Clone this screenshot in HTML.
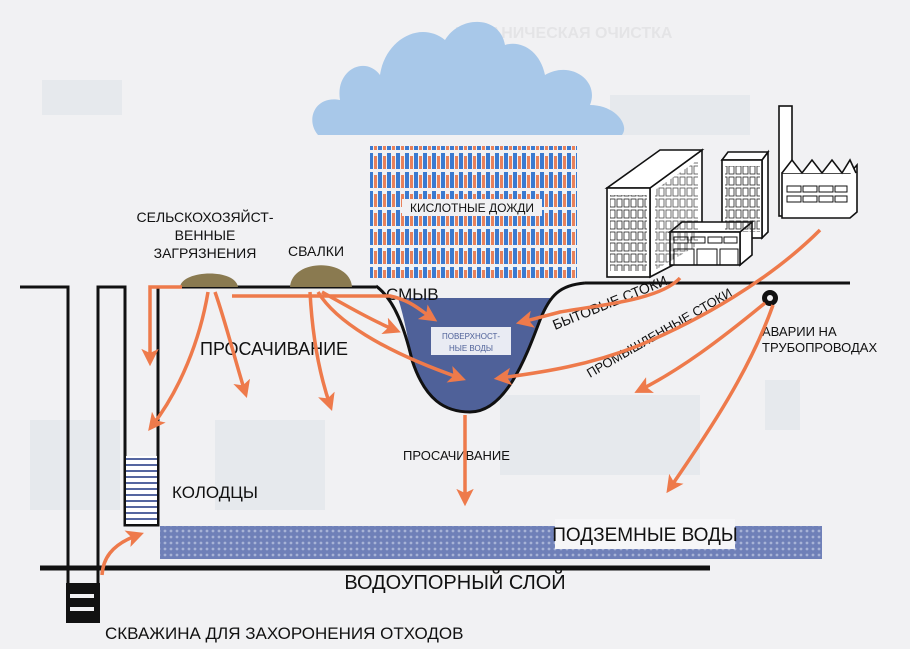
<!DOCTYPE html>
<html><head><meta charset="utf-8"><style>
html,body{margin:0;padding:0;background:#f1f1f3;}
svg{display:block}
text{font-family:"Liberation Sans",sans-serif;}
</style></head><body>
<svg width="910" height="649" viewBox="0 0 910 649" xmlns="http://www.w3.org/2000/svg">
<defs>
<marker id="ah" markerWidth="5" markerHeight="5" refX="3.2" refY="2.5" orient="auto" markerUnits="strokeWidth">
<path d="M0,0 L5,2.5 L0,5 L1.2,2.5z" fill="#ee7a4b"/></marker>
<pattern id="rain" width="9" height="19" patternUnits="userSpaceOnUse">
<rect x="0" y="1" width="4" height="16" fill="#3a7ad0"/>
<rect x="5" y="4" width="3" height="13" fill="#e8815a"/>
</pattern>
<pattern id="gw" width="6" height="6" patternUnits="userSpaceOnUse">
<rect width="6" height="6" fill="#6f80b8"/><circle cx="3" cy="3" r="1.4" fill="#a7b3d6"/>
</pattern>
<pattern id="win" width="7" height="11" patternUnits="userSpaceOnUse">
<rect x="1" y="1" width="5" height="8" fill="none" stroke="#222" stroke-width="0.8"/>
</pattern>
</defs>
<rect width="910" height="649" fill="#f1f1f3"/>
<g opacity="0.07" fill="#5a7fb0">
<rect x="42" y="80" width="80" height="35"/><rect x="610" y="95" width="140" height="40"/>
<rect x="500" y="395" width="200" height="80"/><rect x="765" y="380" width="35" height="50"/>
<rect x="30" y="420" width="90" height="90"/><rect x="215" y="420" width="110" height="90"/>
</g>
<text x="455" y="38" font-size="16" font-weight="bold" fill="#555" opacity="0.08">МЕХАНИЧЕСКАЯ ОЧИСТКА</text>
<!-- cloud -->
<path d="M318,135 C305,120 315,95 340,100 C335,70 365,55 380,75 C385,40 420,20 445,40 C460,15 500,15 505,45 C520,40 540,50 545,75 C570,60 600,80 590,105 C615,105 630,125 622,135 Z" fill="#a8c8e9"/>
<rect x="370" y="146" width="207" height="132" fill="url(#rain)"/>
<rect x="402" y="199" width="140" height="17" fill="#f1f1f3"/>
<text x="472" y="212" font-size="12" text-anchor="middle" fill="#111">КИСЛОТНЫЕ ДОЖДИ</text>
<!-- water bowl -->
<path d="M398,298 C405,320 408,340 412,360 C425,400 445,412 470,412 C505,412 525,360 540,320 C544,310 548,302 552,298 Z" fill="#4f6199"/>
<path d="M376,286 C395,300 405,330 412,360 C425,400 445,412 470,412 C505,412 525,360 540,320 C550,295 560,285 585,283" fill="none" stroke="#111" stroke-width="3"/>
<rect x="431" y="327" width="80" height="28" fill="#e9ebf3"/>
<text x="471" y="339" font-size="8" text-anchor="middle" fill="#4f6199">ПОВЕРХНОСТ-</text>
<text x="471" y="351" font-size="8" text-anchor="middle" fill="#4f6199">НЫЕ ВОДЫ</text>
<g stroke="#111" stroke-width="3" fill="none">
<path d="M20,287 L68,287 L68,622"/>
<path d="M98,622 L98,287 L125,287 L125,525 L158,525 L158,287 L376,287"/>
<path d="M585,283 L850,283"/>
</g>
<rect x="126" y="456" width="31" height="68" fill="#fff"/>
<g stroke="#5566a0" stroke-width="2"><path d="M126,459h31M126,465h31M126,471h31M126,477h31M126,483h31M126,489h31M126,495h31M126,501h31M126,507h31M126,513h31M126,519h31"/></g>
<rect x="66" y="583" width="34" height="40" fill="#111"/>
<rect x="70" y="594" width="24" height="4" fill="#f1f1f3"/><rect x="70" y="607" width="24" height="4" fill="#f1f1f3"/>
<rect x="160" y="526" width="662" height="33" fill="url(#gw)"/>
<rect x="555" y="519" width="180" height="30" fill="#f6f6f8"/>
<text x="645" y="541" font-size="19" text-anchor="middle" fill="#111">ПОДЗЕМНЫЕ ВОДЫ</text>
<line x1="40" y1="568" x2="710" y2="568" stroke="#111" stroke-width="5"/>
<text x="455" y="589" font-size="20" text-anchor="middle" fill="#111">ВОДОУПОРНЫЙ СЛОЙ</text>
<text x="105" y="639" font-size="17" fill="#111">СКВАЖИНА ДЛЯ ЗАХОРОНЕНИЯ ОТХОДОВ</text>
<path d="M180,287 C182,270 235,268 238,287 Z" fill="#8a7a50"/>
<path d="M290,287 C292,258 350,258 352,287 Z" fill="#8a7a50"/>
<g fill="#111" font-size="14" text-anchor="middle">
<text x="205" y="222">СЕЛЬСКОХОЗЯЙСТ-</text><text x="205" y="240">ВЕННЫЕ</text><text x="205" y="258">ЗАГРЯЗНЕНИЯ</text>
<text x="316" y="256">СВАЛКИ</text>
</g>
<text x="386" y="300" font-size="17" fill="#111">СМЫВ</text>
<text x="200" y="355" font-size="18" fill="#111">ПРОСАЧИВАНИЕ</text>
<text x="403" y="460" font-size="13" fill="#111">ПРОСАЧИВАНИЕ</text>
<text x="172" y="498" font-size="17" fill="#111">КОЛОДЦЫ</text>
<text x="762" y="336" font-size="13" fill="#111">АВАРИИ НА</text>
<text x="762" y="352" font-size="13" fill="#111">ТРУБОПРОВОДАХ</text>
<text x="0" y="0" font-size="14" fill="#111" transform="translate(555,330) rotate(-22)">БЫТОВЫЕ СТОКИ</text>
<text x="0" y="0" font-size="13" fill="#111" transform="translate(590,378) rotate(-30)">ПРОМЫШЛЕННЫЕ СТОКИ</text>
<circle cx="770" cy="298" r="8" fill="#111"/><circle cx="770" cy="298" r="3" fill="#f1f1f3"/>
<g stroke="#111" stroke-width="1.6" fill="#fff">
<rect x="779" y="106" width="13" height="110"/>
<path d="M650,188 L702,150 L702,250 L650,277 Z"/>
<path d="M607,188 L650,188 L702,150 L660,150 Z"/>
<rect x="607" y="188" width="43" height="89"/>
<path d="M762,160 L768,152 L768,232 L762,238 Z"/>
<path d="M722,160 L762,160 L768,152 L728,152 Z"/>
<rect x="722" y="160" width="40" height="78"/>
<path d="M782,173 L850,173 L857,165 L857,212 L850,218 L782,218 Z"/>
<path d="M782,173 l10,-13 l10,13 l10,-13 l10,13 l10,-13 l10,13 l8,-13 l6,13" />
<path d="M740,232 L752,222 L752,255 L740,265 Z"/>
<path d="M670,232 L740,232 L752,222 L682,222 Z"/>
<rect x="670" y="232" width="70" height="33"/>
</g>
<rect x="610" y="195" width="37" height="76" fill="url(#win)"/>
<rect x="725" y="166" width="35" height="66" fill="url(#win)"/>
<path d="M655,190 L698,160 L698,245 L655,270Z" fill="url(#win)" opacity="0.8"/>
<g stroke="#111" stroke-width="1" fill="none">
<rect x="787" y="186" width="14" height="6"/><rect x="803" y="186" width="14" height="6"/><rect x="819" y="186" width="14" height="6"/><rect x="835" y="186" width="12" height="6"/>
<rect x="787" y="196" width="14" height="6"/><rect x="803" y="196" width="14" height="6"/><rect x="819" y="196" width="14" height="6"/><rect x="835" y="196" width="12" height="6"/>
<rect x="674" y="237" width="14" height="6"/><rect x="691" y="237" width="14" height="6"/><rect x="708" y="237" width="14" height="6"/><rect x="724" y="237" width="13" height="6"/>
<rect x="674" y="249" width="20" height="16"/><rect x="697" y="249" width="20" height="16"/><rect x="720" y="249" width="18" height="16"/>
</g>
<g stroke="#ee7a4b" stroke-width="3.5" fill="none" marker-end="url(#ah)">
<path d="M182,287 L150,287 L150,360"/>
<path d="M208,292 C200,340 180,390 152,426"/>
<path d="M215,292 C225,320 235,360 245,392"/>
<path d="M232,296 L390,296 C410,300 420,310 432,318"/>
<path d="M310,292 C312,330 318,370 330,405"/>
<path d="M318,292 C335,320 380,350 460,378"/>
<path d="M322,292 C345,305 375,322 395,330"/>
<path d="M680,278 C660,300 600,305 560,312 C545,316 538,318 522,322"/>
<path d="M820,230 C770,280 700,320 640,345 C590,365 545,372 500,378"/>
<path d="M765,303 C720,340 680,370 640,390"/>
<path d="M773,305 C750,370 710,430 670,488"/>
<path d="M465,415 L465,500"/>
<path d="M102,575 C103,560 110,545 138,535"/>
</g>
</svg>
</body></html>
